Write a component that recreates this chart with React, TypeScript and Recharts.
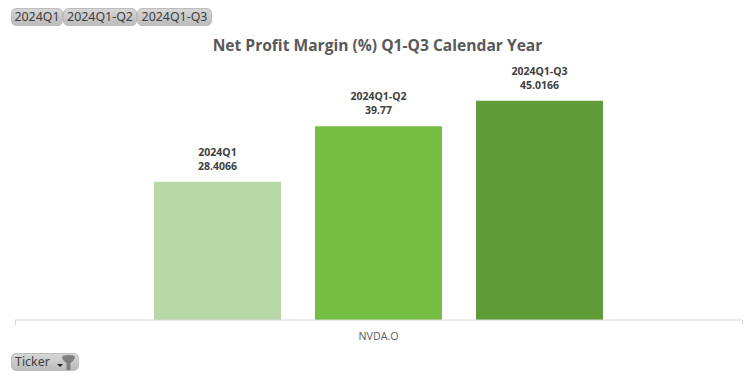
import React from "react";
import { BarChart, Bar, XAxis, YAxis, LabelList } from "recharts";

const categories = ["NVDA.O"];
const seriesNames = ["2024Q1", "2024Q1-Q2", "2024Q1-Q3"];
const seriesValues = [28.4066, 39.77, 45.0166];
const seriesColors = ["#b8d8a8", "#76bd43", "#5f9c37"];
const chartTitle = "Net Profit Margin (%) Q1-Q3 Calendar Year";
const filterName = "Ticker";

const tableRows = categories.map((name) => {
  const row: Record<string, string | number> = { name };
  seriesNames.forEach((s, i) => {
    row[s] = seriesValues[i];
  });
  return row;
});

const FONT = "'Open Sans', 'Noto Sans', sans-serif";

const chipStyle: React.CSSProperties = {
  position: "absolute",
  top: 8,
  height: 18,
  boxSizing: "border-box",
  border: "1px solid #bdbdbd",
  borderRadius: 5,
  background: "linear-gradient(#d6d6d6, #bcbcbc)",
  color: "#404040",
  fontFamily: "'Noto Sans', sans-serif",
  fontSize: 12.4,
  lineHeight: "16px",
  textAlign: "center",
  whiteSpace: "nowrap",
};

const chips = [
  { left: 11, width: 52 },
  { left: 63, width: 74 },
  { left: 137, width: 75 },
];

function makeLabel(series: string) {
  return (props: any) => {
    const { x, y, width, value } = props;
    const cx = Number(x) + Number(width) / 2;
    return (
      <text
        x={cx}
        textAnchor="middle"
        fontFamily={FONT}
        fontWeight={700}
        fontSize={10.5}
        fill="#404040"
      >
        <tspan x={cx} y={Number(y) - 26}>{series}</tspan>
        <tspan x={cx} y={Number(y) - 12}>{value}</tspan>
      </text>
    );
  };
}

export default function App() {
  return (
    <div style={{ position: "absolute", left: 0, top: 0, width: 756, height: 378, background: "#fff", overflow: "hidden" }}>
      <BarChart
        width={756}
        height={378}
        data={tableRows}
        margin={{ top: 76.5, right: 14, bottom: 28, left: 15 }}
        barSize={127}
        barGap={34}
      >
        <XAxis
          dataKey="name"
          height={30}
          tickLine={false}
          axisLine={{ stroke: "#d9d9d9", strokeWidth: 1 }}
          tick={{ fontSize: 10.7, fill: "#595959", fontFamily: FONT }}
          tickMargin={6}
        />
        <YAxis hide domain={[0, 50]} />
        {seriesNames.map((s, i) => (
          <Bar key={s} dataKey={s} fill={seriesColors[i]} isAnimationActive={false}>
            <LabelList dataKey={s} content={makeLabel(s)} />
          </Bar>
        ))}
      </BarChart>

      <div
        style={{
          position: "absolute",
          left: 0,
          width: 755,
          top: 34,
          textAlign: "center",
          fontFamily: FONT,
          fontWeight: 700,
          fontSize: 15.6,
          lineHeight: "22px",
          color: "#595959",
          whiteSpace: "nowrap",
        }}
      >
        {chartTitle}
      </div>

      {seriesNames.map((s, i) => (
        <div key={s} style={{ ...chipStyle, left: chips[i].left, width: chips[i].width }}>{s}</div>
      ))}

      <div style={{ ...chipStyle, top: 353, left: 11, width: 68, textAlign: "left", paddingLeft: 3 }}>
        {filterName}
        <svg width={30} height={18} style={{ position: "absolute", left: 40, top: -1 }}>
          <path d="M5 11 h6 l-3 3 z" fill="#222" />
          <path d="M10 4 q0 -2 6.5 -2 q6.5 0 6.5 2 q0 3 -4.5 6 v7 h-4 v-7 q-4.5 -3 -4.5 -6 z" fill="#7f7f7f" />
        </svg>
      </div>

      <svg width={756} height={378} style={{ position: "absolute", left: 0, top: 0, pointerEvents: "none" }}>
        <path d="M15.5 320 v5 M742.5 320 v5" stroke="#d9d9d9" fill="none" />
      </svg>
    </div>
  );
}
